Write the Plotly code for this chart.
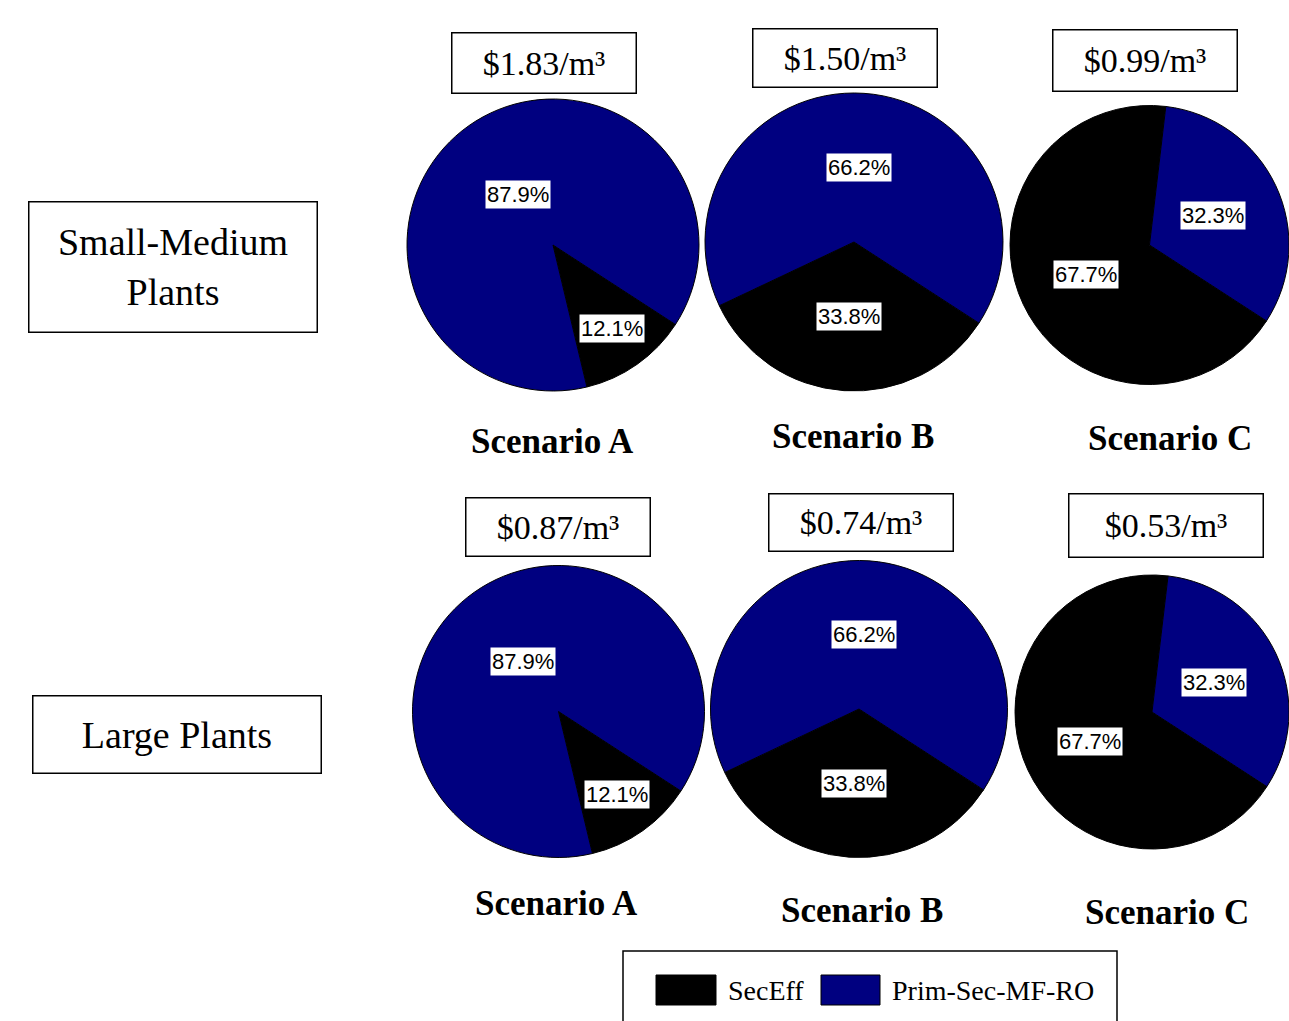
import math
import plotly.graph_objects as go

W, H = 1289, 1021

# ---------------- data ----------------
components = ["SecEff", "Prim-Sec-MF-RO"]
component_colors = ["#000000", "#000080"]
scenarios = ["Scenario A", "Scenario B", "Scenario C"]
plant_sizes = ["Small-Medium<br>Plants", "Large Plants"]
seceff_share_small = [12.1, 33.8, 67.7]
prim_share_small = [87.9, 66.2, 32.3]
seceff_share_large = [12.1, 33.8, 67.7]
prim_share_large = [87.9, 66.2, 32.3]
cost_small = [1.83, 1.50, 0.99]
cost_large = [0.87, 0.74, 0.53]

# ---------------- layout geometry (pixels) ----------------
ROTATION = 123
pie_geo = [
    [(553, 245, 146), (854, 242, 149), (1149.5, 245, 139.5)],
    [(558.5, 711.5, 146), (859, 709, 148.5), (1152, 712, 137)],
]
scen_pos = [
    [(552, 441), (853, 436), (1170, 438)],
    [(556, 903), (862, 910), (1167, 912)],
]
cost_box = [
    [(544, 63, 186, 62), (845, 58, 186, 60), (1145, 60.5, 186, 63)],
    [(558, 527, 186, 60), (861, 522.5, 186, 59), (1166, 525.5, 196, 65)],
]
row_box = [(173, 267, 290, 132), (177, 734.5, 290, 79)]

SERIF = "Liberation Serif, Times New Roman, serif"
SANS = "Liberation Sans, Arial, sans-serif"


def px(x):
    return x / W


def py(y):
    return 1 - y / H


fig = go.Figure()
annotations = []
shapes = []

rows = [
    (seceff_share_small, prim_share_small, cost_small),
    (seceff_share_large, prim_share_large, cost_large),
]

for ri, (sec, prim, costs) in enumerate(rows):
    for ci in range(3):
        cx, cy, r = pie_geo[ri][ci]
        vals = [sec[ci], prim[ci]]
        fig.add_trace(go.Pie(
            labels=components,
            values=vals,
            sort=False,
            direction="clockwise",
            rotation=ROTATION,
            marker=dict(colors=component_colors, line=dict(color="#000000", width=1)),
            textinfo="none",
            textposition="none",
            hovertemplate="%{label}: %{value}%<extra></extra>",
            showlegend=False,
            domain=dict(x=[max(0, px(cx - r)), min(1, px(cx + r))],
                        y=[max(0, py(cy + r)), min(1, py(cy - r))]),
        ))
        # percentage labels with white background
        total = sum(vals)
        start = ROTATION
        for v in vals:
            span = v / total * 360
            mid = math.radians(start + span / 2)
            share = v / total
            f = 0.7 if share < 0.2 else (0.42 if share > 0.8 else 0.5)
            lx = cx + f * r * math.sin(mid)
            ly = cy - f * r * math.cos(mid)
            annotations.append(dict(
                x=px(lx), y=py(ly), xref="paper", yref="paper",
                text=f"{v:.1f}%", showarrow=False,
                font=dict(family=SANS, size=22, color="#000000"),
                bgcolor="#ffffff", borderpad=1,
                xanchor="center", yanchor="middle",
            ))
            start += span
        # scenario labels
        sx, sy = scen_pos[ri][ci]
        annotations.append(dict(
            x=px(sx), y=py(sy), xref="paper", yref="paper",
            text=scenarios[ci], showarrow=False,
            font=dict(family=SERIF, size=35, color="#000000", weight="bold"),
            xanchor="center", yanchor="middle",
        ))
        # cost boxes
        bx, by, bw, bh = cost_box[ri][ci]
        annotations.append(dict(
            x=px(bx), y=py(by), xref="paper", yref="paper",
            text=f"${costs[ci]:.2f}/m\u00b3", showarrow=False,
            font=dict(family=SERIF, size=34, color="#000000"),
            width=bw - 3, height=bh - 3, borderpad=0,
            bordercolor="#000000", borderwidth=1.5, bgcolor="#ffffff",
            align="center", valign="middle",
            xanchor="center", yanchor="middle",
        ))

# row labels
for ri in range(2):
    bx, by, bw, bh = row_box[ri]
    annotations.append(dict(
        x=px(bx), y=py(by), xref="paper", yref="paper",
        text=plant_sizes[ri], showarrow=False,
        font=dict(family=SERIF, size=38, color="#000000"),
        width=bw - 3, height=bh - 3, borderpad=0,
        bordercolor="#000000", borderwidth=1.5, bgcolor="#ffffff",
        align="center", valign="middle",
        xanchor="center", yanchor="middle",
    ))

# legend (drawn manually to reproduce the large swatches)
shapes.append(dict(type="rect", xref="paper", yref="paper",
                   x0=px(623), x1=px(1117), y0=py(1045), y1=py(951),
                   line=dict(color="#000000", width=1.5), fillcolor="#ffffff",
                   layer="below"))
legend_items = [(656, 716, 726), (821, 880, 890)]
for (sx0, sx1, tx), name, col in zip(legend_items, components, component_colors):
    shapes.append(dict(type="rect", xref="paper", yref="paper",
                       x0=px(sx0), x1=px(sx1), y0=py(1005), y1=py(975),
                       line=dict(color="#000000", width=1), fillcolor=col))
    annotations.append(dict(
        x=px(tx), y=py(990), xref="paper", yref="paper",
        text=name, showarrow=False,
        font=dict(family=SERIF, size=28, color="#000000"),
        xanchor="left", yanchor="middle",
    ))

fig.update_layout(
    width=W, height=H,
    margin=dict(l=0, r=0, t=0, b=0),
    paper_bgcolor="#ffffff", plot_bgcolor="#ffffff",
    annotations=annotations, shapes=shapes,
    showlegend=False,
)

fig.write_html("out.html")
